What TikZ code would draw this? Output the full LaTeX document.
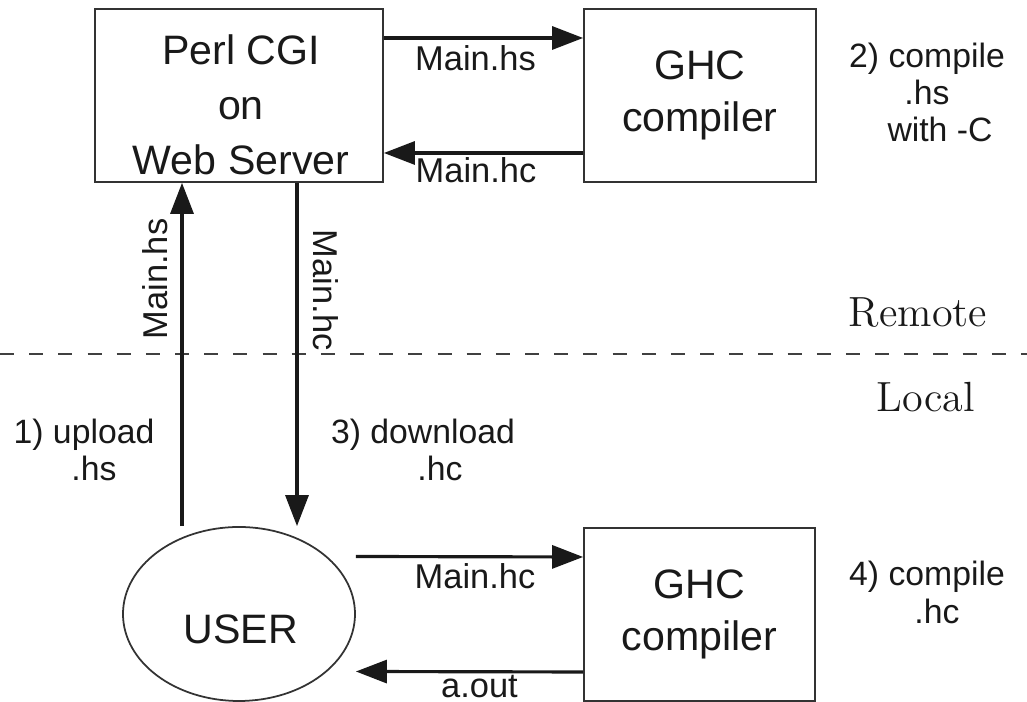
\documentclass[tikz,border=0pt]{standalone}
\usepackage{fontspec}
\setsansfont{Liberation Sans}
\renewcommand{\familydefault}{\sfdefault}
\usetikzlibrary{arrows.meta,shapes.geometric,positioning}

\tikzset{
  box/.style={draw=black!80, line width=0.5pt, inner sep=0pt, minimum height=1.73cm, font=\fontsize{11.7}{14.8}\selectfont, align=center},
  person/.style={ellipse, draw=black!80, line width=0.5pt, inner sep=0pt, minimum width=2.32cm, minimum height=1.74cm},
  big/.style={font=\fontsize{11.7}{15.6}\selectfont, align=center, inner sep=0pt},
  flow/.style={draw=black!90, line width=0.9pt, -{Triangle[length=3.1mm,width=2.3mm]}},
  lbl/.style={font=\fontsize{9.8}{11}\selectfont, inner sep=0pt},
  note/.style={font=\fontsize{9.6}{10.6}\selectfont, align=center, inner sep=0pt},
  side/.style={font=\rmfamily\fontsize{12}{14}\selectfont, inner sep=0pt}
}

\begin{document}
\begin{tikzpicture}[text=black!90]
	\useasboundingbox (0,0) rectangle (10.27,7.02);
	% remote
	\node[box, minimum width=2.88cm] (web) at (2.39,6.065) {};
	\node[big] (webtext) at (2.41,5.97) {Perl CGI\\on\\Web Server};
	\node[box, minimum width=2.32cm] (ghcup) at (7.00,6.065) {GHC\\compiler};
	\node[note] (step2) at (9.27,6.095) {2) compile\\.hs\\\hspace*{0.26cm}with -C};
	% local
	\node[person] (user) at (2.39,0.88) {};
	\node[big] (usertext) at (2.41,0.73) {USER};
	\node[box, minimum width=2.31cm] (ghcdown) at (6.995,0.875) {GHC\\compiler};
	\node[note] (step4) at (9.27,1.095) {4) compile\\\hspace*{0.2cm}.hc};
	\node[note] (step1) at (0.84,2.52) {1) upload\\\hspace*{0.2cm}.hs};
	\node[note] (step3) at (4.23,2.52) {3) download\\\hspace*{0.34cm}.hc};
	% border between the two sides
	\draw[black!75, line width=0.4pt, dash pattern=on 4pt off 4.3pt] (0,3.48) -- (10.27,3.48);
	\node[side] (remote) at (9.18,3.89) {Remote};
	\node[side] (local) at (9.26,3.045) {Local};
	% transfers
	\draw[flow] ([yshift=0.575cm]web.east) -- node[lbl, below=0.06cm, xshift=-0.08cm] {Main.hs} ([yshift=0.575cm]ghcup.west);
	\draw[flow] ([yshift=-0.575cm]ghcup.west) -- node[lbl, below=0.03cm, xshift=-0.075cm] {Main.hc} ([yshift=-0.575cm]web.east);
	\draw[flow] ([xshift=-0.57cm]user.north) -- node[lbl, xshift=-0.13cm, rotate=90, anchor=south, pos=0.72] {Main.hs} ([xshift=-0.57cm]web.south);
	\draw[flow] ([xshift=0.58cm]web.south) -- node[lbl, xshift=0.15cm, rotate=-90, anchor=south, pos=0.313] {Main.hc} ([xshift=0.58cm]user.north);
	\draw[flow] ([yshift=0.575cm]user.east) -- node[lbl, below=0.05cm, xshift=0.055cm] {Main.hc} ([yshift=0.575cm]ghcdown.west);
	\draw[flow] ([yshift=-0.575cm]ghcdown.west) -- node[lbl, below=0.02cm, xshift=0.1cm] {a.out} ([yshift=-0.575cm]user.east);
\end{tikzpicture}
\end{document}
